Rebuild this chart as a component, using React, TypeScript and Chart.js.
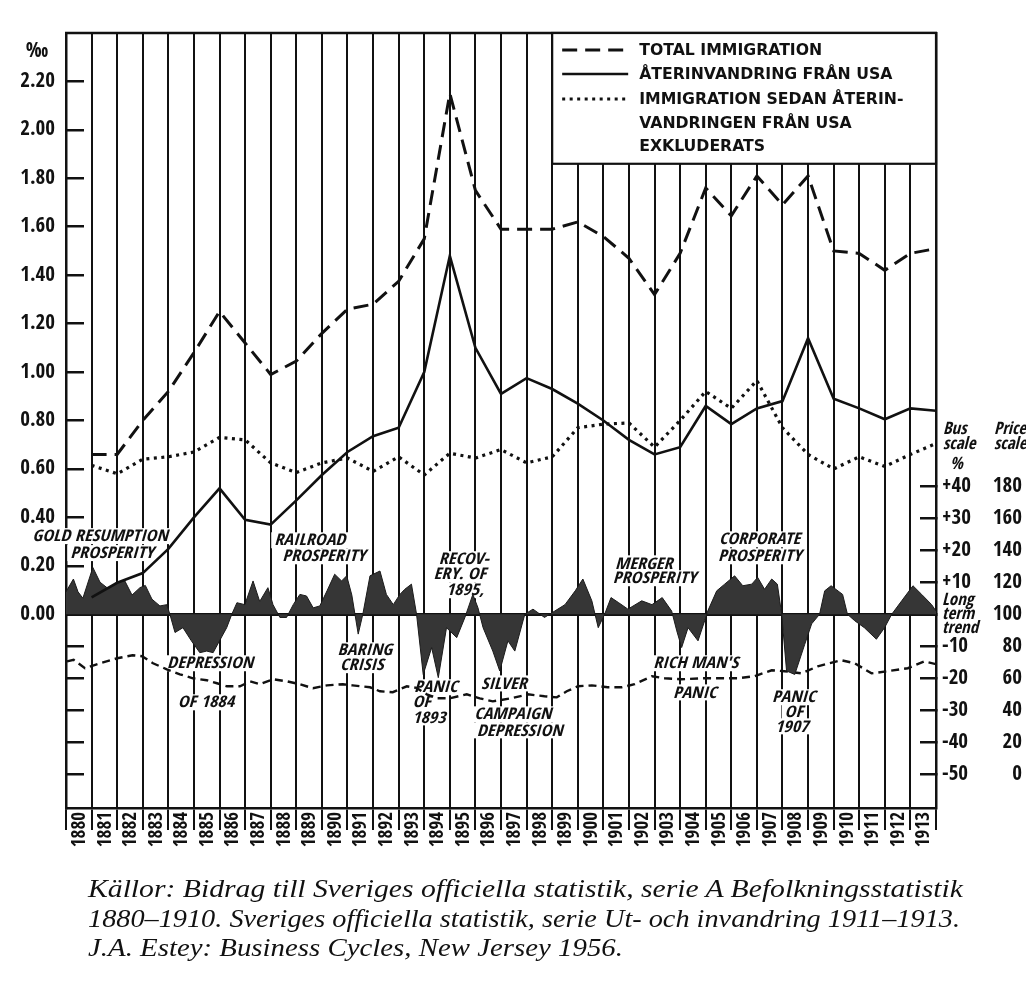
import React, { useEffect, useRef } from 'react';
import { Chart, registerables } from 'chart.js';

Chart.register(...registerables);

// ---------- DATA ----------
const YEARS = [
  1880, 1881, 1882, 1883, 1884, 1885, 1886, 1887, 1888, 1889,
  1890, 1891, 1892, 1893, 1894, 1895, 1896, 1897, 1898, 1899,
  1900, 1901, 1902, 1903, 1904, 1905, 1906, 1907, 1908, 1909,
  1910, 1911, 1912, 1913,
];

const TOTAL_IMMIGRATION = [
  0.66, 0.66, 0.80, 0.92, 1.08, 1.25, 1.12, 0.99, 1.045, 1.16,
  1.26, 1.28, 1.375, 1.55, 2.15, 1.75, 1.59, 1.59, 1.59, 1.62,
  1.56, 1.47, 1.32, 1.49, 1.76, 1.645, 1.81, 1.69, 1.81, 1.50,
  1.49, 1.42, 1.49, 1.51,
];

const RETURN_FROM_USA = [
  0.07, 0.13, 0.17, 0.27, 0.40, 0.52, 0.39, 0.37, 0.47, 0.575,
  0.67, 0.735, 0.77, 1.00, 1.48, 1.10, 0.91, 0.975, 0.93, 0.87,
  0.80, 0.72, 0.66, 0.69, 0.86, 0.785, 0.85, 0.88, 1.14, 0.89,
  0.85, 0.805, 0.85, 0.84,
];

const IMMIGRATION_EXCL_USA = [
  0.615, 0.58, 0.64, 0.65, 0.67, 0.73, 0.72, 0.625, 0.585, 0.625,
  0.645, 0.59, 0.65, 0.575, 0.665, 0.645, 0.68, 0.625, 0.65, 0.77,
  0.785, 0.79, 0.69, 0.80, 0.92, 0.85, 0.965, 0.77, 0.66, 0.60,
  0.65, 0.61, 0.66, 0.705,
];

// Business activity, % deviation from long term trend: [date, value]
const BUSINESS_CYCLE: [number, number][] = [
  [1880.0, 7], [1880.29, 11], [1880.47, 7], [1880.66, 5], [1881.05, 14.6], [1881.33, 10], [1881.65, 8], [1881.99, 10],
  [1882.3, 10.4], [1882.58, 6], [1882.89, 8.3], [1883.1, 9], [1883.36, 4.7], [1883.67, 2.6], [1883.94, 3],
  [1884.06, 0], [1884.26, -5.7], [1884.57, -4.2], [1884.9, -8.3], [1885.23, -12], [1885.5, -11.5], [1885.75, -12],
  [1886.0, -8.3], [1886.28, -4.2], [1886.48, 0], [1886.68, 3.6], [1886.99, 3], [1887.31, 10.4], [1887.57, 4], [1887.89, 8.3],
  [1888.09, 3], [1888.36, -1], [1888.62, -1], [1888.88, 3], [1889.14, 6.2], [1889.4, 5.7], [1889.66, 2], [1889.92, 2.6],
  [1890.2, 7.3], [1890.5, 12.5], [1890.77, 10.4], [1890.97, 12], [1891.17, 6], [1891.42, -6.2], [1891.6, 0], [1891.88, 12],
  [1892.27, 13.5], [1892.52, 6.2], [1892.79, 3], [1893.05, 6.2], [1893.24, 7.8], [1893.5, 9.4], [1893.7, 0], [1893.96, -18.8],
  [1894.29, -10.4], [1894.55, -19.8], [1894.87, -4.2], [1895.27, -7.3], [1895.59, -1], [1895.9, 6.2], [1896.1, 2], [1896.3, -4.2],
  [1896.68, -11.5], [1896.95, -17.7], [1897.27, -8.3], [1897.54, -11.5], [1897.93, 0], [1898.25, 1.6], [1898.7, -1],
  [1899.1, 1], [1899.5, 3], [1899.9, 7.3], [1900.2, 11], [1900.55, 4.2], [1900.8, -4.2], [1901.05, 0], [1901.3, 5.2],
  [1901.6, 3.6], [1901.96, 1.6], [1902.5, 4.2], [1902.9, 3], [1903.3, 5.2], [1903.67, 1], [1903.87, -5.2], [1904.06, -10.4],
  [1904.31, -4.2], [1904.7, -8.3], [1904.96, -2], [1905.08, 1], [1905.43, 7.3], [1905.74, 9.4], [1906.13, 12], [1906.45, 8.9],
  [1906.8, 9.4], [1907.03, 11.5], [1907.3, 7.8], [1907.58, 11], [1907.8, 9.4], [1907.97, 0], [1908.16, -17.7], [1908.48, -18.8],
  [1908.87, -9.4], [1909.14, -3], [1909.45, 0], [1909.65, 7.3], [1909.9, 8.9], [1910.35, 6.2], [1910.54, 0], [1910.82, -2],
  [1911.2, -4.2], [1911.67, -7.8], [1911.99, -4.2], [1912.27, 0], [1912.66, 4.2], [1913.1, 8.9], [1913.44, 6.2], [1913.83, 3],
  [1914.0, 1],
];

// Price index (price scale): [date, value]
const PRICE_INDEX: [number, number][] = [
  [1880.04, 70.6], [1880.3, 71.5], [1880.74, 66.3], [1881.33, 69.4], [1882.0, 72.5], [1882.6, 74.4], [1882.97, 73.8],
  [1883.4, 69.4], [1883.94, 65.6], [1884.45, 62.5], [1884.96, 60], [1885.5, 58.8], [1885.9, 56.9], [1886.29, 55],
  [1886.8, 55], [1887.19, 58.1], [1887.58, 56.3], [1888.09, 59.4], [1888.63, 58.1], [1889.14, 56.3], [1889.65, 53.8],
  [1890.2, 55.6], [1890.82, 56.3], [1891.2, 55.6], [1891.88, 54.4], [1892.27, 51.9], [1892.77, 51.3], [1893.32, 55],
  [1893.7, 54], [1894.1, 50], [1894.5, 47.5], [1895.0, 47.5], [1895.66, 50], [1896.17, 47.5], [1896.68, 45.6],
  [1897.4, 47.5], [1898.05, 50], [1898.7, 48.8], [1899.18, 48.1], [1899.57, 51.9], [1900.0, 55], [1900.55, 55.6],
  [1901.17, 54.4], [1901.72, 54.4], [1902.22, 56.3], [1902.9, 61.3], [1903.4, 60], [1904.06, 59.4], [1904.84, 60],
  [1905.63, 60], [1906.25, 60], [1906.9, 61.3], [1907.58, 65], [1908.08, 64.4], [1908.75, 63.1], [1909.38, 67.5],
  [1910.3, 71.3], [1910.82, 69.4], [1911.48, 63.1], [1912.1, 64.4], [1912.9, 66.3], [1913.55, 70.6], [1914.0, 68.8],
];

const PERMILLE_TICKS = [0, 0.2, 0.4, 0.6, 0.8, 1.0, 1.2, 1.4, 1.6, 1.8, 2.0, 2.2];
const BUS_TICKS = [40, 30, 20, 10, 0, -10, -20, -30, -40, -50];
const PRICE_TICKS = [180, 160, 140, 120, 100, 80, 60, 40, 20, 0];

const LEGEND_LINES = [
  'TOTAL IMMIGRATION',
  'ÅTERINVANDRING FRÅN USA',
  'IMMIGRATION SEDAN ÅTERIN-',
  'VANDRINGEN FRÅN USA',
  'EXKLUDERATS',
];

const CAPTION = [
  'Källor: Bidrag till Sveriges officiella statistik, serie A Befolkningsstatistik',
  '1880–1910. Sveriges officiella statistik, serie Ut- och invandring 1911–1913.',
  'J.A. Estey: Business Cycles, New Jersey 1956.',
];
const CAPTION_WIDTHS = [875, 872, 535];

// Annotation text, date, business-scale value
const ANNOTATIONS: [string, number, number][] = [
  ['GOLD RESUMPTION', 1881.33, 24.4], ['PROSPERITY', 1881.8, 19.1],
  ['RAILROAD', 1889.53, 23.1], ['PROSPERITY', 1890.08, 18.1],
  ['RECOV-', 1895.55, 17.2], ['ERY. OF', 1895.39, 12.5], ['1895,', 1895.59, 7.5],
  ['MERGER', 1902.58, 15.9], ['PROSPERITY', 1903.0, 11.25],
  ['CORPORATE', 1907.11, 23.4], ['PROSPERITY', 1907.11, 18.1],
  ['DEPRESSION', 1885.63, -15.3], ['OF 1884', 1885.47, -27.5],
  ['BARING', 1891.68, -11.25], ['CRISIS', 1891.56, -15.9],
  ['PANIC', 1894.45, -22.8], ['OF', 1893.9, -27.5], ['1893', 1894.18, -32.2],
  ['SILVER', 1897.11, -21.6], ['CAMPAIGN', 1897.46, -31.25], ['DEPRESSION', 1897.73, -36.25],
  ["RICH MAN'S", 1904.61, -15.3], ['PANIC', 1904.57, -24.4],
  ['PANIC', 1908.44, -25.9], ['OF', 1908.44, -30.6], ['1907', 1908.36, -35],
];

// ---------- SCALE GEOMETRY ----------
const X_MIN = 1880;
const X_MAX = 1914;
const PM_MIN = -0.8;
const PM_MAX = 2.4;
const BUS_MIN = -60.5;
const BUS_MAX = 181.5;
const PRICE_MIN = 100 + 2 * BUS_MIN;
const PRICE_MAX = 100 + 2 * BUS_MAX;
const busToPermille = (v: number) => PM_MIN + ((v - BUS_MIN) * (PM_MAX - PM_MIN)) / (BUS_MAX - BUS_MIN);

const NARROW = '"Open Sans Condensed", "DejaVu Sans Condensed", "DejaVu Sans", sans-serif';
const INK = '#111';

const noPad = (s: any) => {
  s.paddingTop = 0;
  s.paddingBottom = 0;
  s.paddingLeft = 0;
  s.paddingRight = 0;
};

const decor = {
  id: 'decor',
  beforeDatasetsDraw(chart: any) {
    const { ctx, scales } = chart;
    const x = scales.x;
    const yb = scales.yBus;
    ctx.save();
    ctx.font = `italic bold 16px ${NARROW}`;
    const sx = Math.max(0.8, Math.min(1.25, 86 / ctx.measureText('DEPRESSION').width));
    ctx.textAlign = 'center';
    ctx.textBaseline = 'middle';
    for (const [text, t, v] of ANNOTATIONS) {
      const px = x.getPixelForValue(t);
      const py = yb.getPixelForValue(v);
      const w = ctx.measureText(text).width * sx;
      ctx.fillStyle = '#fff';
      ctx.fillRect(px - w / 2 - 3, py - 8, w + 6, 16);
      ctx.save();
      ctx.translate(px, py);
      ctx.scale(sx, 1);
      ctx.fillStyle = INK;
      ctx.fillText(text, 0, 1);
      ctx.restore();
    }
    ctx.restore();
  },
  afterDatasetsDraw(chart: any) {
    const { ctx, chartArea, scales } = chart;
    const x = scales.x;
    const y = scales.y;
    ctx.save();
    ctx.strokeStyle = INK;
    ctx.lineWidth = 2.5;
    ctx.beginPath();
    ctx.moveTo(chartArea.left - 1, chartArea.top);
    ctx.lineTo(chartArea.right + 1, chartArea.top);
    ctx.stroke();

    // legend box
    const bl = x.getPixelForValue(1899);
    const bt = chartArea.top;
    const bb = y.getPixelForValue(1.86);
    const br = chartArea.right;
    ctx.fillStyle = '#fff';
    ctx.fillRect(bl, bt, br - bl, bb - bt);
    ctx.lineWidth = 2.2;
    ctx.strokeRect(bl, bt, br - bl, bb - bt);
    const ds = chart.data.datasets;
    const rows = [17, 41, 66, 90, 113];
    for (let i = 0; i < 3; i++) {
      const d = ds[i];
      ctx.save();
      ctx.strokeStyle = d.borderColor;
      ctx.lineWidth = d.borderWidth;
      ctx.setLineDash(d.borderDash || []);
      ctx.beginPath();
      ctx.moveTo(bl + 10, bt + rows[i]);
      ctx.lineTo(bl + 76, bt + rows[i]);
      ctx.stroke();
      ctx.restore();
    }
    ctx.font = `bold 16px "DejaVu Sans", sans-serif`;
    const lsx = Math.max(0.7, Math.min(1.3, 183 / ctx.measureText(LEGEND_LINES[0]).width));
    ctx.fillStyle = INK;
    ctx.textAlign = 'left';
    ctx.textBaseline = 'middle';
    LEGEND_LINES.forEach((line, i) => {
      ctx.save();
      ctx.translate(bl + 87, bt + rows[i] + 1);
      ctx.scale(lsx, 1);
      ctx.fillText(line, 0, 0);
      ctx.restore();
    });

    // unit labels
    ctx.font = `bold 21px ${NARROW}`;
    ctx.textAlign = 'center';
    ctx.fillText('‰', 37, 52);

    const yb = scales.yBus;
    const hx = chartArea.right + 7;
    const top40 = yb.getPixelForValue(40);
    ctx.font = `italic bold 17px ${NARROW}`;
    ctx.textAlign = 'left';
    ctx.fillText('Bus', hx, top40 - 57);
    ctx.fillText('scale', hx, top40 - 42);
    ctx.fillText('%', hx + 7, top40 - 22);
    ctx.fillText('Price', hx + 51, top40 - 57);
    ctx.fillText('scale', hx + 51, top40 - 42);
    ctx.restore();
  },
};

export default function App() {
  const ref = useRef<HTMLCanvasElement>(null);
  const capRef = useRef<HTMLDivElement>(null);

  useEffect(() => {
    const canvas = ref.current;
    if (!canvas) return;
    const annual = (vals: number[]) => YEARS.map((yr, i) => ({ x: yr + 1, y: vals[i] }));
    const chart = new Chart(canvas, {
      type: 'line',
      data: {
        datasets: [
          { label: 'Total immigration', data: annual(TOTAL_IMMIGRATION), yAxisID: 'y', borderColor: INK, borderWidth: 3, borderDash: [15, 8], pointRadius: 0, tension: 0, fill: false },
          { label: 'Återinvandring från USA', data: annual(RETURN_FROM_USA), yAxisID: 'y', borderColor: INK, borderWidth: 2.6, pointRadius: 0, tension: 0, fill: false },
          { label: 'Immigration sedan återinvandringen från USA exkluderats', data: annual(IMMIGRATION_EXCL_USA), yAxisID: 'y', borderColor: INK, borderWidth: 3.2, borderDash: [3, 4.5], pointRadius: 0, tension: 0, fill: false },
          { label: 'Business activity', data: BUSINESS_CYCLE.map(([t, v]) => ({ x: t, y: v })), yAxisID: 'yBus', borderColor: '#1a1a1a', backgroundColor: '#363636', borderWidth: 1, pointRadius: 0, tension: 0, fill: 'origin' },
          { label: 'Price index', data: PRICE_INDEX.map(([t, v]) => ({ x: t, y: v })), yAxisID: 'yPrice', borderColor: INK, borderWidth: 2.4, borderDash: [8, 5], pointRadius: 0, tension: 0, fill: false },
        ],
      },
      options: {
        animation: false,
        responsive: false,
        maintainAspectRatio: false,
        layout: { padding: { left: 0, right: 4, top: 33, bottom: 0 } },
        plugins: { legend: { display: false }, tooltip: { enabled: false } },
        scales: {
          x: {
            type: 'linear',
            position: 'bottom',
            min: X_MIN,
            max: X_MAX,
            afterBuildTicks: (s: any) => {
              s.ticks = [...YEARS, X_MAX].map((v) => ({ value: v }));
            },
            afterFit: (s: any) => {
              s.height = 173;
              noPad(s);
            },
            grid: { color: INK, lineWidth: 2, drawTicks: true, tickLength: 22, tickColor: INK },
            border: { color: INK, width: 2.5 },
            ticks: {
              autoSkip: false,
              maxRotation: 90,
              minRotation: 90,
              labelOffset: 14,
              padding: -18,
              color: INK,
              font: { family: NARROW, size: 19, weight: 'bold' },
              callback: (v: any) => (Number(v) < X_MAX ? String(v) : ''),
            },
          },
          y: {
            position: 'left',
            min: PM_MIN,
            max: PM_MAX,
            afterBuildTicks: (s: any) => {
              const neg = BUS_TICKS.filter((v) => v < 0).map(busToPermille).sort((a, b) => a - b);
              s.ticks = [...neg, ...PERMILLE_TICKS].map((v) => ({ value: v }));
            },
            afterFit: (s: any) => {
              s.width = 66;
              noPad(s);
            },
            grid: { drawOnChartArea: false, drawTicks: true, tickLength: -18, tickColor: INK, lineWidth: 2.5 },
            border: { color: INK, width: 2.5 },
            ticks: {
              padding: 29,
              color: INK,
              font: { family: NARROW, size: 21, weight: 'bold' },
              callback: (v: any) => (Number(v) >= -1e-9 ? Number(v).toFixed(2) : ''),
            },
          },
          yBus: {
            position: 'right',
            min: BUS_MIN,
            max: BUS_MAX,
            afterBuildTicks: (s: any) => {
              s.ticks = BUS_TICKS.map((v) => ({ value: v }));
            },
            afterFit: (s: any) => {
              s.width = 46;
              noPad(s);
            },
            grid: {
              drawOnChartArea: true,
              drawTicks: true,
              tickLength: -16,
              tickColor: INK,
              color: (c: any) => (c.tick && c.tick.value === 0 ? INK : 'rgba(0,0,0,0)'),
              lineWidth: (c: any) => (c.tick && c.tick.value === 0 ? 3 : 2.5),
            },
            border: { color: INK, width: 2.5 },
            ticks: {
              padding: 22,
              color: INK,
              font: (c: any) =>
                c.tick && c.tick.value === 0
                  ? { family: NARROW, size: 17, style: 'italic', weight: 'bold', lineHeight: 0.82 }
                  : { family: NARROW, size: 21, weight: 'bold' },
              callback: (v: any) => {
                const n = Number(v);
                if (n === 0) return ['Long', 'term', 'trend'];
                return n > 0 ? '+' + n : String(n);
              },
            },
          },
          yPrice: {
            position: 'right',
            min: PRICE_MIN,
            max: PRICE_MAX,
            afterBuildTicks: (s: any) => {
              s.ticks = PRICE_TICKS.map((v) => ({ value: v }));
            },
            afterFit: (s: any) => {
              s.width = 40;
              noPad(s);
            },
            grid: { drawOnChartArea: false, drawTicks: false },
            border: { display: false },
            ticks: {
              padding: 6,
              crossAlign: 'far',
              color: INK,
              font: { family: NARROW, size: 21, weight: 'bold' },
              callback: (v: any) => String(v),
            },
          },
        },
      } as any,
      plugins: [decor],
    });

    // fit caption lines to the reference widths
    const cap = capRef.current;
    if (cap) {
      Array.from(cap.children).forEach((el: any, i) => {
        el.style.transform = 'none';
        const w = el.getBoundingClientRect().width;
        if (w > 0) el.style.transform = `scaleX(${CAPTION_WIDTHS[i] / w})`;
      });
    }
    return () => chart.destroy();
  }, []);

  return (
    <div style={{ position: 'fixed', left: 0, top: 0, width: 1026, height: 981, background: '#fff', overflow: 'hidden' }}>
      <canvas ref={ref} width={1026} height={981} style={{ position: 'absolute', left: 0, top: 0, width: 1026, height: 981 }} />
      <div
        ref={capRef}
        style={{
          position: 'absolute',
          left: 88,
          top: 874,
          fontFamily: '"Liberation Serif", "DejaVu Serif", serif',
          fontStyle: 'italic',
          fontSize: 26,
          lineHeight: '29.5px',
          color: INK,
        }}
      >
        {CAPTION.map((line, i) => (
          <div key={i} style={{ display: 'inline-block', whiteSpace: 'nowrap', transformOrigin: 'left top', float: 'left', clear: 'left' }}>
            {line}
          </div>
        ))}
      </div>
    </div>
  );
}
